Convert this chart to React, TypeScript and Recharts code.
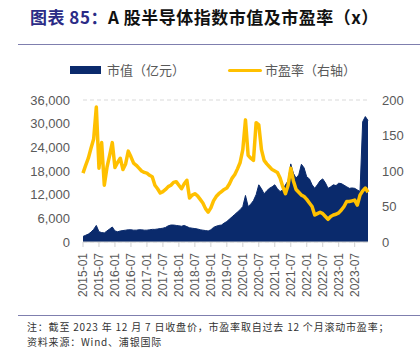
import { ComposedChart, Area, Line, XAxis, YAxis, CartesianGrid } from 'recharts'

// 月度数据 2015-01 ~ 2023-12
const START_YEAR = 2015
const MONTHS = 108

const months: string[] = Array.from({ length: MONTHS }, (_, i) => {
  const y = START_YEAR + Math.floor(i / 12)
  const m = (i % 12) + 1
  return `${y}-${m < 10 ? '0' + m : m}`
})

// 市值（亿元）
const marketCap = [
  1400, 1700, 2000, 2500, 3200, 4200, 2600, 2400, 2300, 2800, 3300, 3800,
  2800, 2600, 2800, 2900, 3000, 3100, 3100, 3000, 3000, 3100, 3100, 3000,
  3000, 3100, 3200, 3200, 3300, 3400, 3500, 3700, 4100, 4300, 4300, 4200,
  4100, 4000, 4200, 3900, 3600, 3500, 3400, 3300, 3100, 3000, 2900, 2800,
  3100, 3700, 4000, 4200, 4300, 4800, 5200, 5800, 6400, 7000, 7600, 8200,
  9000, 11800, 9000, 9600, 10500, 12000, 14500, 13500, 12200, 13000, 13600, 14000,
  14500, 13500, 12800, 13200, 14500, 15500, 19800, 17400, 16200, 17000, 19700, 18800,
  16500, 16000, 14500, 13600, 14500, 15500, 16000, 15000, 13600, 14000, 14500, 14300,
  14900, 14800, 14400, 14000, 13600, 13700, 13600, 13200, 12800, 30500, 31800, 30800,
]

// 市盈率（右轴）
const peRatio = [
  97, 108, 118, 132, 145, 190, 104, 140, 80, 105, 122, 140,
  105, 112, 118, 102, 110, 128, 120, 111, 108, 104, 100, 98,
  97, 94, 92, 80, 75, 69, 71, 74, 78, 80, 84, 85,
  80, 75, 82, 87, 62, 66, 68, 65, 60, 55, 47, 42,
  48, 58, 64, 68, 71, 74, 76, 82, 90, 95, 103, 112,
  130, 172, 122, 118, 115, 168, 165, 130, 115, 110, 106, 102,
  100, 98, 90, 78, 68, 80, 104, 86, 74, 70, 66, 64,
  60, 55, 50, 38, 40, 42, 40, 36, 32, 36, 38, 39,
  41, 45, 50, 57, 57, 58, 59, 52, 66, 72, 76, 70,
]

const leftTicks = [0, 6000, 12000, 18000, 24000, 30000, 36000]
const rightTicks = [0, 50, 100, 150, 200]

const data = months.map((m, i) => ({ month: m, cap: marketCap[i], pe: peRatio[i] }))

const NAVY = '#0A2A6C'
const GOLD = '#FFC000'
const GREY = '#595959'
const TICK_FONT = '"Liberation Sans", Arial, sans-serif'
const CJK_FONT = '"Noto Sans CJK SC", "Noto Sans", sans-serif'

function MonthTick({ x, y, payload }: { x?: number; y?: number; payload?: { value: string } }) {
  return (
    <g transform={`translate(${x},${y})`}>
      <text
        transform="rotate(-90)"
        x={-4}
        y={0}
        dy="0.36em"
        textAnchor="end"
        fontSize={12}
        fill={GREY}
        fontFamily={TICK_FONT}
      >
        {payload?.value}
      </text>
    </g>
  )
}

export default function App() {
  return (
    <div style={{ position: 'absolute', left: 0, top: 0, width: 420, height: 351, background: '#fff', fontFamily: CJK_FONT }}>
      {/* 标题 */}
      <div style={{ position: 'absolute', left: 30, top: 6, fontSize: 17, fontWeight: 700, whiteSpace: 'nowrap', lineHeight: '22px', letterSpacing: 0.5 }}>
        <span style={{ color: '#2B2B86' }}>图表 85：</span>
        <span style={{ color: '#111' }}>A 股半导体指数市值及市盈率（x）</span>
      </div>
      <div style={{ position: 'absolute', left: 18, top: 44, width: 402, height: 1, background: '#7F7FAE' }} />

      {/* 图例 */}
      <div style={{ position: 'absolute', left: 70, top: 66, width: 31, height: 8, background: NAVY }} />
      <div style={{ position: 'absolute', left: 107, top: 61, fontSize: 13, color: GREY, lineHeight: '18px', whiteSpace: 'nowrap' }}>
        市值（亿元）
      </div>
      <div style={{ position: 'absolute', left: 228, top: 69, width: 34, height: 3, background: GOLD, borderRadius: 2 }} />
      <div style={{ position: 'absolute', left: 265, top: 61, fontSize: 13, color: GREY, lineHeight: '18px', whiteSpace: 'nowrap' }}>
        市盈率（右轴）
      </div>

      <div style={{ position: 'absolute', left: 0, top: 0 }}>
        <ComposedChart
          width={420}
          height={320}
          data={data}
          margin={{ top: 100, right: 7, left: 23, bottom: 8 }}
        >
          <CartesianGrid vertical={false} stroke="#D9D9D9" strokeDasharray="4 3" />
          <XAxis
            dataKey="month"
            interval={5}
            height={70}
            tick={<MonthTick />}
            tickLine={{ stroke: '#D0D0D0' }}
            tickSize={5}
            axisLine={{ stroke: '#D0D0D0' }}
          />
          <YAxis
            yAxisId="left"
            domain={[0, 36000]}
            ticks={leftTicks}
            width={60}
            axisLine={false}
            tickLine={false}
            tickMargin={7}
            tick={{ fontSize: 13, fill: GREY, fontFamily: TICK_FONT }}
            tickFormatter={(v: number) => v.toLocaleString('en-US')}
          />
          <YAxis
            yAxisId="right"
            orientation="right"
            domain={[0, 200]}
            ticks={rightTicks}
            width={45}
            axisLine={false}
            tickLine={false}
            tickMargin={8}
            tick={{ fontSize: 13, fill: GREY, fontFamily: TICK_FONT }}
          />
          <Area
            yAxisId="left"
            type="linear"
            dataKey="cap"
            stroke={NAVY}
            strokeWidth={1}
            fill={NAVY}
            fillOpacity={1}
            isAnimationActive={false}
            dot={false}
            activeDot={false}
          />
          <Line
            yAxisId="right"
            type="linear"
            dataKey="pe"
            stroke={GOLD}
            strokeWidth={3.5}
            strokeLinejoin="round"
            dot={false}
            activeDot={false}
            isAnimationActive={false}
          />
        </ComposedChart>
      </div>

      {/* 注释 */}
      <div style={{ position: 'absolute', left: 18, top: 315, width: 402, height: 1, background: '#7F7FAE' }} />
      <div style={{ position: 'absolute', left: 27, top: 320, fontSize: 10, color: '#333', lineHeight: '14px', whiteSpace: 'nowrap', letterSpacing: 0.8 }}>
        注：截至 2023 年 12 月 7 日收盘价，市盈率取自过去 12 个月滚动市盈率；
      </div>
      <div style={{ position: 'absolute', left: 27, top: 335, fontSize: 10, color: '#333', lineHeight: '14px', whiteSpace: 'nowrap', letterSpacing: 0.8 }}>
        资料来源：Wind、浦银国际
      </div>
    </div>
  )
}
